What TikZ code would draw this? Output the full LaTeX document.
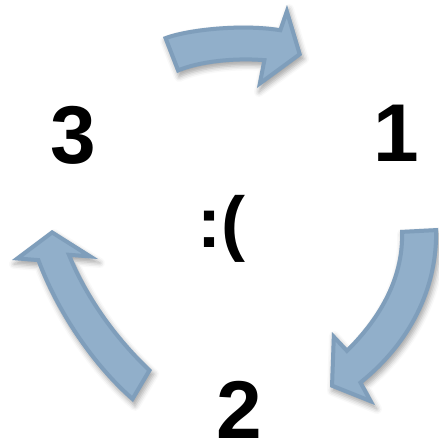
\documentclass[tikz,border=0pt]{standalone}
\usepackage{fontspec}
\setmainfont{Liberation Sans}
\usetikzlibrary{shadows.blur}
\definecolor{arrowblue}{HTML}{91AFCA}
\definecolor{arrowrim}{HTML}{56779A}
\begin{document}
\begin{tikzpicture}[x=1pt,y=-1pt,
  digit/.style={font=\fontsize{82}{90}\selectfont\bfseries, inner sep=0pt, anchor=base},
  face/.style={font=\fontsize{72}{80}\selectfont\bfseries, inner sep=0pt, anchor=base},
  arrowbody/.style={fill=arrowblue, blur shadow={shadow xshift=2pt, shadow yshift=-4pt, shadow blur radius=5pt, shadow opacity=35}},
  arrowrimline/.style={draw=arrowrim, opacity=0.3, line width=8pt, line join=miter}]
\useasboundingbox (0,0) rectangle (439,445);
\def\arrT{(163,37) .. controls (185,28) and (240,22) .. (279,28) -- (287,5) -- (302,55) -- (257,88) -- (262,62) .. controls (235,60) and (200,63) .. (177,73) -- cycle}
\def\arrR{(400,230) -- (438,228) .. controls (440,290) and (410,345) .. (363,383) -- (375,405) -- (330,387) -- (332,332) -- (347,348) .. controls (380,315) and (402,275) .. (400,230) -- cycle}
\def\arrL{(52,230) -- (98,259) -- (72,257) .. controls (90,300) and (120,340) .. (152,370) -- (133,402) .. controls (90,365) and (55,310) .. (37,262) -- (12,260) -- cycle}
\foreach \p in {\arrT,\arrR,\arrL}{
  \fill[arrowbody] \p;
  \begin{scope}
    \clip \p;
    \draw[arrowrimline] \p;
  \end{scope}
}
\node[digit] (n3) at (73,163) {3};
\node[digit] (n1) at (396,161) {1};
\node[digit] (n2) at (239,438) {2};
\node[face] (smile) at (221,247) {:(};
\end{tikzpicture}
\end{document}
